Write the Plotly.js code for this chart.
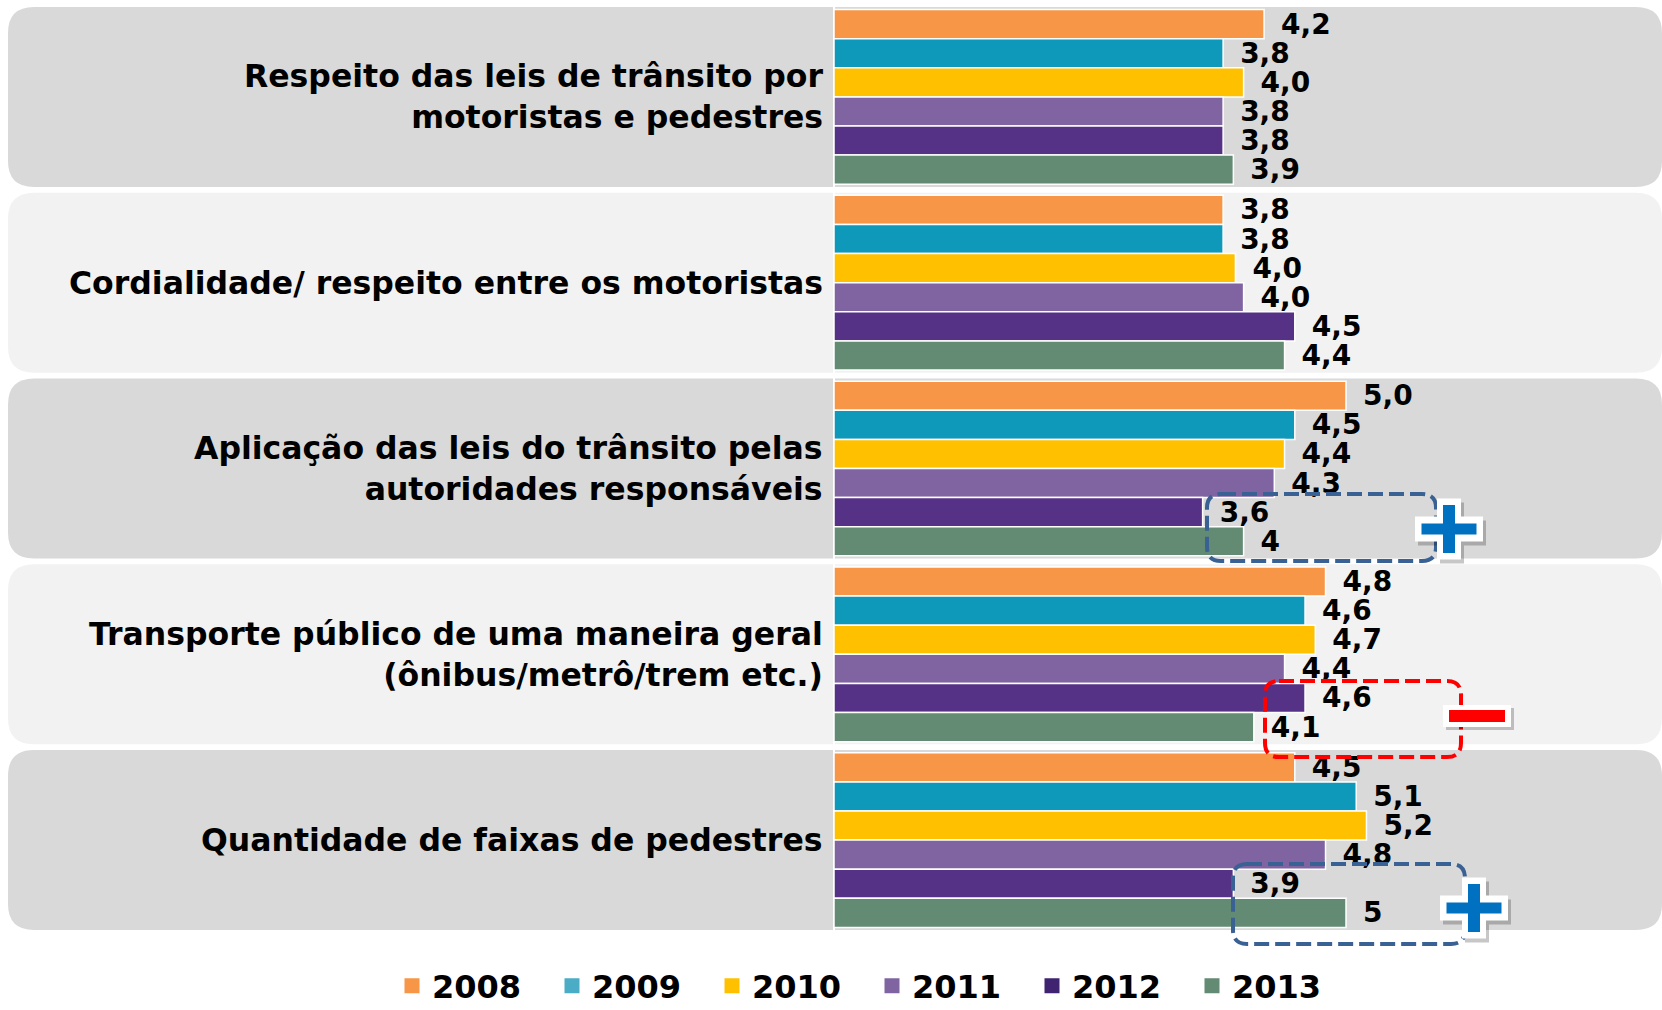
<!DOCTYPE html>
<html>
<head>
<meta charset="utf-8">
<script src="https://cdn.plot.ly/plotly-3.0.1.min.js"></script>
<style>html,body{margin:0;padding:0;background:#fff;}#chart{width:1662px;height:1010px;}</style>
</head>
<body>
<div id="chart"></div>
<script>
// ---- data ----
const categories = [
  "Respeito das leis de trânsito por<br>motoristas e pedestres",
  "Cordialidade/ respeito entre os motoristas",
  "Aplicação das leis do trânsito pelas<br>autoridades responsáveis",
  "Transporte público de uma maneira geral<br>(ônibus/metrô/trem etc.)",
  "Quantidade de faixas de pedestres"
];
const years = ["2008", "2009", "2010", "2011", "2012", "2013"];
const s2008 = [4.2, 3.8, 5.0, 4.8, 4.5];
const s2009 = [3.8, 3.8, 4.5, 4.6, 5.1];
const s2010 = [4.0, 3.92, 4.4, 4.7, 5.2];
const s2011 = [3.8, 4.0, 4.3, 4.4, 4.8];
const s2012 = [3.8, 4.5, 3.6, 4.6, 3.9];
const s2013 = [3.9, 4.4, 4.0, 4.1, 5.0];
// value labels as printed in the chart
const labels2008 = ["4,2", "3,8", "5,0", "4,8", "4,5"];
const labels2009 = ["3,8", "3,8", "4,5", "4,6", "5,1"];
const labels2010 = ["4,0", "4,0", "4,4", "4,7", "5,2"];
const labels2011 = ["3,8", "4,0", "4,3", "4,4", "4,8"];
const labels2012 = ["3,8", "4,5", "3,6", "4,6", "3,9"];
const labels2013 = ["3,9", "4,4", "4", "4,1", "5"];

// ---- styles ----
const colors = ["#F79646", "#0E98BA", "#FFC000", "#8064A2", "#553285", "#638A73"];
const legendColors = ["#F79646", "#4BACC6", "#FFC000", "#8064A2", "#3F2370", "#638A73"];
const FONT = "DejaVu Sans, Verdana, sans-serif";
const series = [s2008, s2009, s2010, s2011, s2012, s2013];
const seriesLabels = [labels2008, labels2009, labels2010, labels2011, labels2012, labels2013];

const traces = series.map((vals, k) => ({
  type: "bar",
  orientation: "h",
  name: years[k],
  legendgroup: years[k],
  showlegend: false,
  y: categories,
  x: vals,
  text: seriesLabels[k].map(t => "\u2002" + t),
  textposition: "outside",
  constraintext: "none",
  cliponaxis: false,
  textfont: {family: FONT, size: 28, color: "#000", weight: "bold"},
  marker: {color: colors[k], line: {color: "#fff", width: 1.5}},
  hoverinfo: "x+name"
}));
// legend entries (square swatches)
years.forEach((yr, k) => {
  traces.push({
    type: "scatter", mode: "markers", name: yr, legendgroup: yr,
    x: [null], y: [null], showlegend: true,
    marker: {symbol: "square", size: 15, color: legendColors[k]},
    hoverinfo: "skip"
  });
});

// ---- pixel helpers for decorations ----
const L = 834, W = 828, T = 4, H = 929;
const px = p => (p - L) / W;
const py = p => (T + H - p) / H;
function roundRect(x0, y0, x1, y1, r) {
  const P = (x, y) => px(x) + "," + py(y);
  return "M" + P(x0 + r, y0) + " L" + P(x1 - r, y0) + " Q" + P(x1, y0) + " " + P(x1, y0 + r) +
    " L" + P(x1, y1 - r) + " Q" + P(x1, y1) + " " + P(x1 - r, y1) +
    " L" + P(x0 + r, y1) + " Q" + P(x0, y1) + " " + P(x0, y1 - r) +
    " L" + P(x0, y0 + r) + " Q" + P(x0, y0) + " " + P(x0 + r, y0) + " Z";
}
function crossPath(cx, cy, a, b, av, bv) {
  const pts = [
    [cx - bv, cy - av], [cx + bv, cy - av], [cx + bv, cy - b], [cx + a, cy - b],
    [cx + a, cy + b], [cx + bv, cy + b], [cx + bv, cy + av], [cx - bv, cy + av],
    [cx - bv, cy + b], [cx - a, cy + b], [cx - a, cy - b], [cx - bv, cy - b]
  ];
  return "M" + pts.map(p => px(p[0]) + "," + py(p[1])).join(" L") + " Z";
}
function rectPath(x0, y0, x1, y1) {
  return "M" + px(x0) + "," + py(y0) + " L" + px(x1) + "," + py(y0) + " L" + px(x1) + "," + py(y1) +
    " L" + px(x0) + "," + py(y1) + " Z";
}

const shapes = [];
const catH = H / categories.length;
categories.forEach((c, i) => {
  const cy = T + catH * (i + 0.5);
  shapes.push({
    type: "path", xref: "paper", yref: "paper", layer: "below",
    path: roundRect(8, cy - 90, 1662, cy + 90, 26),
    fillcolor: i % 2 === 0 ? "#D9D9D9" : "#F2F2F2", line: {width: 0}
  });
});

// dashed highlight boxes
const blueDash = "#3A6194";
const dashPat = "15px,6px";
shapes.push({type: "path", xref: "paper", yref: "paper", layer: "above",
  path: roundRect(1207, 494, 1436, 561, 14), line: {color: blueDash, width: 4, dash: dashPat}});
shapes.push({type: "path", xref: "paper", yref: "paper", layer: "above",
  path: roundRect(1265, 681, 1461, 757, 14), line: {color: "#FF0000", width: 4, dash: dashPat}});
shapes.push({type: "path", xref: "paper", yref: "paper", layer: "above",
  path: roundRect(1233, 864, 1465, 944, 14), line: {color: blueDash, width: 4, dash: dashPat}});

// plus / minus signs
function addCross(cx, cy, color) {
  shapes.push({type: "path", xref: "paper", yref: "paper", layer: "above",
    path: crossPath(cx + 3, cy + 4, 34, 12.5, 30.5, 12), fillcolor: "rgba(0,0,0,0.22)", line: {width: 0}});
  shapes.push({type: "path", xref: "paper", yref: "paper", layer: "above",
    path: crossPath(cx, cy, 34, 12.5, 30.5, 12), fillcolor: "#fff", line: {width: 0}});
  shapes.push({type: "path", xref: "paper", yref: "paper", layer: "above",
    path: crossPath(cx, cy, 27.5, 5.5, 24, 6), fillcolor: color, line: {width: 0}});
}
addCross(1449, 529, "#0070C0");
addCross(1474, 908, "#0070C0");
shapes.push({type: "path", xref: "paper", yref: "paper", layer: "above",
  path: rectPath(1446, 708, 1514, 730), fillcolor: "rgba(0,0,0,0.22)", line: {width: 0}});
shapes.push({type: "path", xref: "paper", yref: "paper", layer: "above",
  path: rectPath(1443, 705, 1511, 727), fillcolor: "#fff", line: {width: 0}});
shapes.push({type: "path", xref: "paper", yref: "paper", layer: "above",
  path: rectPath(1449, 710, 1505, 722), fillcolor: "#FF0000", line: {width: 0}});

// category labels
const annotations = categories.map(c => ({
  xref: "paper", yref: "y", x: -9 / W, y: c,
  xanchor: "right", yanchor: "middle", align: "right",
  text: c, showarrow: false,
  font: {family: FONT, size: 31.5, color: "#000", weight: "bold"}
}));

const layout = {
  width: 1662, height: 1010,
  margin: {l: L, r: 0, t: T, b: 1010 - T - H, pad: 0, autoexpand: false},
  paper_bgcolor: "#fff", plot_bgcolor: "rgba(0,0,0,0)",
  barmode: "group", bargap: 0.06, bargroupgap: 0,
  xaxis: {range: [0, 8.086], showticklabels: false, showgrid: false, zeroline: true,
    zerolinecolor: "#fff", zerolinewidth: 2, fixedrange: true},
  yaxis: {autorange: "reversed", showticklabels: false, showgrid: false, zeroline: false,
    ticks: "", fixedrange: true},
  showlegend: true,
  legend: {orientation: "h", xref: "paper", yref: "paper", x: px(392), y: py(986),
    xanchor: "left", yanchor: "middle", traceorder: "normal",
    font: {family: FONT, size: 32, color: "#000", weight: "bold"},
    bgcolor: "rgba(0,0,0,0)", entrywidth: 115, entrywidthmode: "pixels"},
  shapes: shapes,
  annotations: annotations
};

Plotly.newPlot("chart", traces, layout, {displayModeBar: false});
</script>
</body>
</html>
